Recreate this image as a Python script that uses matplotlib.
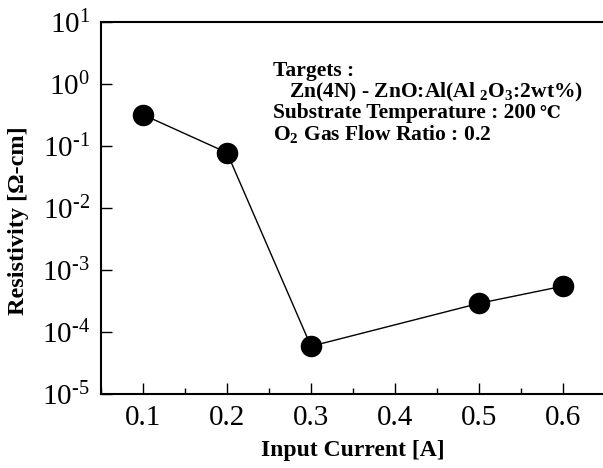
import math
import matplotlib
matplotlib.use("Agg")
import matplotlib.pyplot as plt
from matplotlib.ticker import FixedLocator, FuncFormatter, MultipleLocator

plt.rcParams["font.family"] = ["Liberation Serif", "DejaVu Serif"]
plt.rcParams["mathtext.default"] = "regular"

# data
current = [0.1, 0.2, 0.3, 0.5, 0.6]
resistivity = [0.32, 0.078, 5.9e-5, 2.9e-4, 5.5e-4]
decades = [-5, -4, -3, -2, -1, 0, 1]
x_ticks = [0.1, 0.2, 0.3, 0.4, 0.5, 0.6]

note_lines = [
    "Targets :",
    "   Zn(4N) - ZnO:Al(Al $_{2}$O$_{3}$:2wt%)",
    "Substrate Temperature : 200",
    "O$_{2}$ Gas Flow Ratio : 0.2",
]


def decade_label(v, pos):
    d = round(math.log10(v))
    sign = "\u2010" if d < 0 else ""
    return "$10^{%s%d}$" % (sign, abs(d))


def main():
    fig = plt.figure(figsize=(6.03, 4.68), dpi=100)
    ax = fig.add_axes([0.1675, 0.158, 0.8358, 0.795])

    ax.plot(current, resistivity, color="black", lw=1.0, marker="o",
            markersize=14.5, markerfacecolor="black", markeredgecolor="black")

    ax.set_yscale("log")
    ax.set_xlim(0.05, 0.65)
    ax.set_ylim(1e-5, 1e1)

    ax.yaxis.set_major_locator(FixedLocator([10.0 ** d for d in decades]))
    ax.yaxis.set_minor_locator(FixedLocator([]))
    ax.yaxis.set_major_formatter(FuncFormatter(decade_label))
    ax.xaxis.set_major_locator(FixedLocator(x_ticks))
    ax.xaxis.set_minor_locator(MultipleLocator(0.05))
    ax.xaxis.set_major_formatter(FuncFormatter(lambda v, p: "%.1f" % v))

    ax.tick_params(which="both", direction="in", top=False, right=False,
                   labelsize=21, width=1.0)
    ax.tick_params(which="major", length=8, pad=8)
    ax.tick_params(which="minor", length=4)
    for s in ax.spines.values():
        s.set_linewidth(1.5)
    # the frame's right edge lies just past the picture's edge
    ax.spines["right"].set_visible(False)

    ax.set_xlabel("Input Current [A]", fontsize=17, fontweight="bold", labelpad=6)
    ax.set_ylabel("Resistivity [\u03a9-cm]", fontsize=17.5, fontweight="bold")
    ax.yaxis.set_label_coords(-0.143, 0.465)

    texts = []
    for i, line in enumerate(note_lines):
        t = fig.text(273 / 603, 1 - (71 + 21 * i) / 468, line, fontsize=15.5,
                     fontweight="bold", va="center", ha="left")
        texts.append(t)

    # degree sign drawn a little smaller, right after "200"
    fig.canvas.draw()
    bb = texts[2].get_window_extent()
    fig.text((bb.x1 + 3) / 603, 1 - (71 + 21 * 2) / 468, "\u2103",
             fontsize=12.5, fontweight="bold", va="center", ha="left",
             family=["DejaVu Serif"])

    fig.savefig("out.png", dpi=100)


if __name__ == "__main__":
    main()
